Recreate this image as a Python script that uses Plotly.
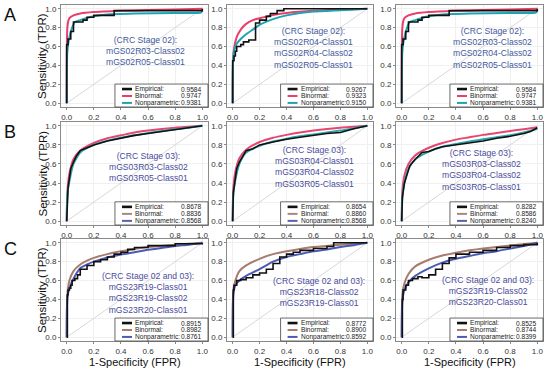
import plotly.graph_objects as go

# ---------------- data ----------------
a1_emp_fpr = [0, 0, 0.01, 0.01, 0.03, 0.03, 0.05, 0.05, 0.12, 0.12, 0.15, 0.15, 0.20, 0.20, 0.35, 0.35, 1.0, 1.0]
a1_emp_tpr = [0, 0.62, 0.62, 0.68, 0.68, 0.76, 0.76, 0.86, 0.86, 0.88, 0.88, 0.91, 0.91, 0.93, 0.93, 0.98, 0.98, 1.0]
a1_bin_fpr = [0, 0.0, 0.005, 0.01, 0.02, 0.05, 0.1, 0.2, 0.4, 0.6, 0.8, 1.0]
a1_bin_tpr = [0, 0.5, 0.8, 0.86, 0.9, 0.93, 0.95, 0.965, 0.978, 0.987, 0.993, 1.0]
a1_np_fpr = [0, 0.005, 0.02, 0.04, 0.06, 0.1, 0.2, 0.3, 0.5, 0.8, 0.99, 1.0]
a1_np_tpr = [0, 0.55, 0.70, 0.80, 0.86, 0.88, 0.92, 0.94, 0.95, 0.955, 0.96, 0.98]

a2_emp_fpr = [0, 0, 0.01, 0.02, 0.03, 0.06, 0.08, 0.12, 0.17, 0.17, 0.20, 0.20, 0.25, 0.25, 0.28, 0.28, 0.33, 0.33, 0.38, 0.38, 1.0]
a2_emp_tpr = [0, 0.45, 0.50, 0.55, 0.60, 0.62, 0.65, 0.67, 0.72, 0.85, 0.85, 0.88, 0.88, 0.92, 0.92, 0.95, 0.95, 0.98, 0.98, 1.0, 1.0]
a2_bin_fpr = [0, 0.003, 0.01, 0.03, 0.06, 0.1, 0.15, 0.2, 0.3, 0.4, 0.6, 0.8, 1.0]
a2_bin_tpr = [0, 0.45, 0.58, 0.70, 0.78, 0.84, 0.88, 0.90, 0.935, 0.955, 0.978, 0.99, 1.0]
a2_np_fpr = [0, 0.003, 0.01, 0.03, 0.06, 0.1, 0.15, 0.2, 0.3, 0.4, 0.5, 0.6, 0.8, 1.0]
a2_np_tpr = [0, 0.45, 0.55, 0.63, 0.68, 0.73, 0.78, 0.83, 0.89, 0.93, 0.955, 0.97, 0.985, 1.0]

a3_emp_fpr = a1_emp_fpr
a3_emp_tpr = a1_emp_tpr
a3_bin_fpr = a1_bin_fpr
a3_bin_tpr = a1_bin_tpr
a3_np_fpr = a1_np_fpr
a3_np_tpr = a1_np_tpr

b1_emp_fpr = [0, 0.005, 0.01, 0.02, 0.03, 0.05, 0.07, 0.09, 0.1, 0.15, 0.2, 0.3, 0.4, 0.5, 0.6, 0.7, 0.8, 0.9, 1.0]
b1_emp_tpr = [0, 0.30, 0.35, 0.45, 0.55, 0.62, 0.68, 0.72, 0.74, 0.77, 0.80, 0.84, 0.87, 0.90, 0.92, 0.94, 0.96, 0.98, 1.0]
b1_bin_fpr = [0, 0.005, 0.02, 0.05, 0.1, 0.2, 0.3, 0.4, 0.5, 0.6, 0.8, 1.0]
b1_bin_tpr = [0, 0.30, 0.50, 0.65, 0.74, 0.82, 0.87, 0.90, 0.93, 0.95, 0.98, 1.0]
b1_np_fpr = [0, 0.005, 0.02, 0.05, 0.1, 0.2, 0.3, 0.4, 0.5, 0.6, 0.7, 0.8, 0.9, 1.0]
b1_np_tpr = [0, 0.28, 0.42, 0.60, 0.72, 0.80, 0.845, 0.875, 0.90, 0.925, 0.945, 0.965, 0.98, 1.0]

b2_emp_fpr = [0, 0.005, 0.02, 0.03, 0.05, 0.08, 0.1, 0.15, 0.2, 0.3, 0.4, 0.5, 0.6, 0.7, 0.8, 0.85, 0.9, 1.0]
b2_emp_tpr = [0, 0.30, 0.45, 0.55, 0.62, 0.70, 0.74, 0.76, 0.80, 0.83, 0.86, 0.88, 0.90, 0.92, 0.93, 0.95, 0.97, 1.0]
b2_bin_fpr = [0, 0.005, 0.02, 0.05, 0.1, 0.2, 0.3, 0.4, 0.5, 0.6, 0.8, 1.0]
b2_bin_tpr = [0, 0.35, 0.52, 0.66, 0.75, 0.83, 0.875, 0.905, 0.93, 0.95, 0.98, 1.0]
b2_np_fpr = [0, 0.005, 0.02, 0.05, 0.1, 0.2, 0.3, 0.4, 0.5, 0.6, 0.7, 0.8, 0.9, 1.0]
b2_np_tpr = [0, 0.28, 0.43, 0.60, 0.72, 0.79, 0.835, 0.865, 0.89, 0.91, 0.93, 0.95, 0.975, 1.0]

b3_emp_fpr = [0, 0.005, 0.02, 0.04, 0.06, 0.1, 0.15, 0.2, 0.25, 0.3, 0.4, 0.5, 0.6, 0.7, 0.8, 0.9, 0.95, 1.0]
b3_emp_tpr = [0, 0.25, 0.40, 0.50, 0.58, 0.65, 0.72, 0.73, 0.76, 0.78, 0.80, 0.82, 0.84, 0.87, 0.89, 0.92, 0.94, 0.98]
b3_bin_fpr = [0, 0.005, 0.02, 0.05, 0.1, 0.2, 0.3, 0.4, 0.5, 0.6, 0.7, 0.8, 0.9, 1.0]
b3_bin_tpr = [0, 0.32, 0.48, 0.60, 0.69, 0.77, 0.82, 0.855, 0.88, 0.905, 0.925, 0.945, 0.965, 0.985]
b3_np_fpr = [0, 0.005, 0.02, 0.05, 0.1, 0.2, 0.3, 0.4, 0.5, 0.6, 0.7, 0.8, 0.9, 1.0]
b3_np_tpr = [0, 0.25, 0.40, 0.55, 0.65, 0.73, 0.78, 0.81, 0.835, 0.86, 0.88, 0.90, 0.93, 0.97]

c1_emp_fpr = [0, 0.005, 0.01, 0.02, 0.03, 0.04, 0.06, 0.08, 0.1, 0.15, 0.2, 0.25, 0.3, 0.35, 0.4, 0.45, 0.5, 0.6, 0.8, 1.0]
c1_emp_tpr = [0, 0.45, 0.50, 0.52, 0.55, 0.60, 0.62, 0.66, 0.72, 0.76, 0.80, 0.82, 0.85, 0.88, 0.90, 0.93, 0.95, 0.97, 0.99, 1.0]
c1_bin_fpr = [0, 0.005, 0.02, 0.05, 0.1, 0.15, 0.2, 0.3, 0.4, 0.5, 0.6, 0.8, 1.0]
c1_bin_tpr = [0, 0.45, 0.60, 0.70, 0.77, 0.81, 0.84, 0.88, 0.91, 0.935, 0.955, 0.98, 1.0]
c1_np_fpr = [0, 0.005, 0.02, 0.05, 0.1, 0.15, 0.2, 0.3, 0.4, 0.5, 0.6, 0.7, 0.8, 0.9, 1.0]
c1_np_tpr = [0, 0.42, 0.52, 0.62, 0.73, 0.77, 0.80, 0.845, 0.875, 0.90, 0.925, 0.945, 0.965, 0.98, 1.0]

c2_emp_fpr = [0, 0.005, 0.01, 0.03, 0.06, 0.1, 0.15, 0.2, 0.25, 0.25, 0.3, 0.35, 0.4, 0.45, 0.5, 0.6, 0.7, 0.75, 1.0]
c2_emp_tpr = [0, 0.50, 0.55, 0.60, 0.61, 0.63, 0.66, 0.68, 0.68, 0.72, 0.78, 0.85, 0.88, 0.90, 0.92, 0.94, 0.96, 1.0, 1.0]
c2_bin_fpr = [0, 0.005, 0.02, 0.05, 0.1, 0.2, 0.3, 0.4, 0.5, 0.6, 0.8, 1.0]
c2_bin_tpr = [0, 0.50, 0.60, 0.70, 0.76, 0.83, 0.88, 0.91, 0.935, 0.955, 0.98, 1.0]
c2_np_fpr = [0, 0.005, 0.02, 0.05, 0.1, 0.2, 0.3, 0.4, 0.5, 0.6, 0.7, 0.8, 0.9, 1.0]
c2_np_tpr = [0, 0.45, 0.55, 0.60, 0.65, 0.72, 0.80, 0.85, 0.88, 0.91, 0.93, 0.955, 0.975, 1.0]

c3_emp_fpr = [0, 0.005, 0.01, 0.03, 0.05, 0.08, 0.12, 0.15, 0.2, 0.25, 0.3, 0.35, 0.4, 0.5, 0.6, 0.7, 0.8, 0.9, 1.0]
c3_emp_tpr = [0, 0.40, 0.50, 0.55, 0.60, 0.62, 0.64, 0.63, 0.66, 0.72, 0.78, 0.84, 0.88, 0.90, 0.92, 0.95, 0.97, 0.98, 1.0]
c3_bin_fpr = [0, 0.005, 0.02, 0.05, 0.1, 0.2, 0.3, 0.4, 0.5, 0.6, 0.8, 1.0]
c3_bin_tpr = [0, 0.45, 0.57, 0.67, 0.75, 0.82, 0.865, 0.895, 0.92, 0.94, 0.97, 1.0]
c3_np_fpr = [0, 0.005, 0.02, 0.05, 0.1, 0.2, 0.3, 0.4, 0.5, 0.6, 0.7, 0.8, 0.9, 1.0]
c3_np_tpr = [0, 0.38, 0.50, 0.58, 0.65, 0.73, 0.79, 0.83, 0.86, 0.89, 0.91, 0.94, 0.965, 1.0]

legend_names = ["Empirical:", "Binormal:", "Nonparametric:"]
auc_a1 = ["0.9584", "0.9747", "0.9381"]
auc_a2 = ["0.9267", "0.9323", "0.9150"]
auc_a3 = ["0.9584", "0.9747", "0.9381"]
auc_b1 = ["0.8678", "0.8836", "0.8568"]
auc_b2 = ["0.8654", "0.8860", "0.8568"]
auc_b3 = ["0.8282", "0.8586", "0.8240"]
auc_c1 = ["0.8915", "0.8982", "0.8761"]
auc_c2 = ["0.8772", "0.8900", "0.8592"]
auc_c3 = ["0.8525", "0.8744", "0.8399"]

label_a1 = ["(CRC Stage 02):", "mGS02R03-Class02", "mGS02R05-Class01"]
label_a2 = ["(CRC Stage 02):", "mGS02R04-Class01", "mGS02R04-Class02", "mGS02R05-Class01"]
label_a3 = ["(CRC Stage 02):", "mGS02R03-Class02", "mGS02R04-Class02", "mGS02R05-Class01"]
label_b1 = ["(CRC Stage 03):", "mGS03R03-Class02", "mGS03R05-Class01"]
label_b2 = ["(CRC Stage 03):", "mGS03R04-Class01", "mGS03R04-Class02", "mGS03R05-Class01"]
label_b3 = ["(CRC Stage 03):", "mGS03R03-Class02", "mGS03R04-Class02", "mGS03R05-Class01"]
label_c1 = ["(CRC Stage 02 and 03):", "mGS23R19-Class01", "mGS23R19-Class02", "mGS23R20-Class01"]
label_c2 = ["(CRC Stage 02 and 03):", "mGS23R18-Class02", "mGS23R19-Class01"]
label_c3 = ["(CRC Stage 02 and 03):", "mGS23R19-Class02", "mGS23R20-Class01"]

tick_vals = [0, 0.2, 0.4, 0.6, 0.8, 1.0]
row_letters = ["A", "B", "C"]

# ---------------- layout helpers ----------------
W, H = 550, 373
FONT = "Liberation Sans, Arial, sans-serif"
col_px = [(61, 208), (227, 373), (396, 543)]
row_px = [(5, 107), (122, 225), (239, 341)]
label_pos = [  # (x data, y data of block centre)
    [(0.58, 0.55), (0.60, 0.58), (0.67, 0.58)],
    [(0.60, 0.57), (0.61, 0.57), (0.59, 0.54)],
    [(0.60, 0.47), (0.64, 0.48), (0.64, 0.49)],
]
emp_shapes = [["hv", "hv", "hv"], ["linear", "linear", "linear"], ["hv", "hv", "hv"]]

row_colors = [
    # curve colours: emp, bin, np ; legend colours: emp, bin, np
    (["#111111", "#ea3f6b", "#1fa3b3"], ["#111111", "#ea3f6b", "#1fa3b3"]),
    (["#111111", "#e8466f", "#2aa6b0"], ["#111111", "#a8887a", "#5a62aa"]),
    (["#111111", "#a87c6c", "#4b5bb4"], ["#111111", "#a87c6c", "#4b5bb4"]),
]
text_colors = ["#3f5a9c", "#4a4c9c", "#4a4c9c"]

panels = [
    [(a1_emp_fpr, a1_emp_tpr, a1_bin_fpr, a1_bin_tpr, a1_np_fpr, a1_np_tpr, auc_a1, label_a1),
     (a2_emp_fpr, a2_emp_tpr, a2_bin_fpr, a2_bin_tpr, a2_np_fpr, a2_np_tpr, auc_a2, label_a2),
     (a3_emp_fpr, a3_emp_tpr, a3_bin_fpr, a3_bin_tpr, a3_np_fpr, a3_np_tpr, auc_a3, label_a3)],
    [(b1_emp_fpr, b1_emp_tpr, b1_bin_fpr, b1_bin_tpr, b1_np_fpr, b1_np_tpr, auc_b1, label_b1),
     (b2_emp_fpr, b2_emp_tpr, b2_bin_fpr, b2_bin_tpr, b2_np_fpr, b2_np_tpr, auc_b2, label_b2),
     (b3_emp_fpr, b3_emp_tpr, b3_bin_fpr, b3_bin_tpr, b3_np_fpr, b3_np_tpr, auc_b3, label_b3)],
    [(c1_emp_fpr, c1_emp_tpr, c1_bin_fpr, c1_bin_tpr, c1_np_fpr, c1_np_tpr, auc_c1, label_c1),
     (c2_emp_fpr, c2_emp_tpr, c2_bin_fpr, c2_bin_tpr, c2_np_fpr, c2_np_tpr, auc_c2, label_c2),
     (c3_emp_fpr, c3_emp_tpr, c3_bin_fpr, c3_bin_tpr, c3_np_fpr, c3_np_tpr, auc_c3, label_c3)],
]

fig = go.Figure()
layout = dict(
    width=W, height=H, margin=dict(l=0, r=0, t=0, b=0),
    paper_bgcolor="white", plot_bgcolor="white", showlegend=False,
    font=dict(family=FONT, color="#222222"),
)
annotations = []
shapes = []

for r in range(3):
    curve_cols, leg_cols = row_colors[r]
    top, bot = row_px[r]
    for c in range(3):
        idx = r * 3 + c + 1
        sfx = "" if idx == 1 else str(idx)
        xa, ya = "x" + sfx, "y" + sfx
        left, right = col_px[c]
        axis_common = dict(
            tickvals=tick_vals, tickformat=".1f", ticks="outside", ticklen=2,
            tickcolor="#888", tickfont=dict(size=8, color="#333", family=FONT),
            showgrid=True, gridcolor="#f0f0f0", gridwidth=1, zeroline=False,
            showline=True, linecolor="#8a8a8a", linewidth=1, mirror=True,
            fixedrange=True,
        )
        layout["xaxis" + sfx] = dict(domain=[left / W, right / W], range=[-0.042, 1.042],
                                     anchor=ya, **axis_common)
        layout["yaxis" + sfx] = dict(domain=[1 - bot / H, 1 - top / H], range=[-0.04, 1.04],
                                     anchor=xa, **axis_common)
        ef, et, bf, bt, nf, nt, aucs, labels = panels[r][c]
        # diagonal chance line
        fig.add_trace(go.Scatter(x=[0, 1], y=[0, 1], mode="lines", xaxis=xa, yaxis=ya,
                                 line=dict(color="#d2d2d2", width=0.9), hoverinfo="skip"))
        fig.add_trace(go.Scatter(x=bf, y=bt, mode="lines", xaxis=xa, yaxis=ya,
                                 line=dict(color=curve_cols[1], width=2, shape="spline", smoothing=0.6)))
        fig.add_trace(go.Scatter(x=nf, y=nt, mode="lines", xaxis=xa, yaxis=ya,
                                 line=dict(color=curve_cols[2], width=2, shape="spline", smoothing=0.6)))
        fig.add_trace(go.Scatter(x=ef, y=et, mode="lines", xaxis=xa, yaxis=ya,
                                 line=dict(color=curve_cols[0], width=1.6, shape=emp_shapes[r][c])))

        # text block
        lx, ly = label_pos[r][c]
        annotations.append(dict(
            x=lx, y=ly, xref=xa, yref=ya, text="<br>".join(labels), showarrow=False,
            align="center", xanchor="center", yanchor="middle",
            font=dict(size=8.6, color=text_colors[r], family=FONT),
        ))

        # legend box (drawn in axis-domain coordinates)
        xd, yd = xa + " domain", ya + " domain"
        shapes.append(dict(type="rect", xref=xd, yref=yd, x0=0.367, x1=1.0, y0=0.0, y1=0.225,
                           line=dict(color="#444444", width=0.8), fillcolor="white", layer="above"))
        ys = [0.176, 0.108, 0.04]
        for k in range(3):
            shapes.append(dict(type="line", xref=xd, yref=yd, x0=0.415, x1=0.483, y0=ys[k], y1=ys[k],
                               line=dict(color=leg_cols[k], width=2.6 if k == 0 else 2), layer="above"))
            annotations.append(dict(x=0.49, y=ys[k], xref=xd, yref=yd, text=legend_names[k],
                                    showarrow=False, xanchor="left", yanchor="middle",
                                    font=dict(size=6.6, color="#222", family=FONT)))
            annotations.append(dict(x=0.975, y=ys[k], xref=xd, yref=yd, text=aucs[k],
                                    showarrow=False, xanchor="right", yanchor="middle",
                                    font=dict(size=6.6, color="#222", family=FONT)))

    # row letter and y-axis title
    annotations.append(dict(x=10 / W, y=1 - (top + 10) / H, xref="paper", yref="paper",
                            text=row_letters[r], showarrow=False, xanchor="center", yanchor="middle",
                            font=dict(size=18, color="#111", family=FONT)))
    annotations.append(dict(x=42 / W, y=1 - ((top + bot) / 2) / H, xref="paper", yref="paper",
                            text="Sensitivity (TPR)", showarrow=False, textangle=-90,
                            xanchor="center", yanchor="middle",
                            font=dict(size=11.5, color="#111", family=FONT)))

for c in range(3):
    left, right = col_px[c]
    annotations.append(dict(x=((left + right) / 2) / W, y=1 - 362 / H, xref="paper", yref="paper",
                            text="1-Specificity (FPR)", showarrow=False, xanchor="center", yanchor="middle",
                            font=dict(size=11, color="#111", family=FONT)))

layout["annotations"] = annotations
layout["shapes"] = shapes
fig.update_layout(**layout)
fig.write_html("out.html", config={"displayModeBar": False},
               post_script="document.body.style.margin='0';document.body.style.overflow='hidden';")
